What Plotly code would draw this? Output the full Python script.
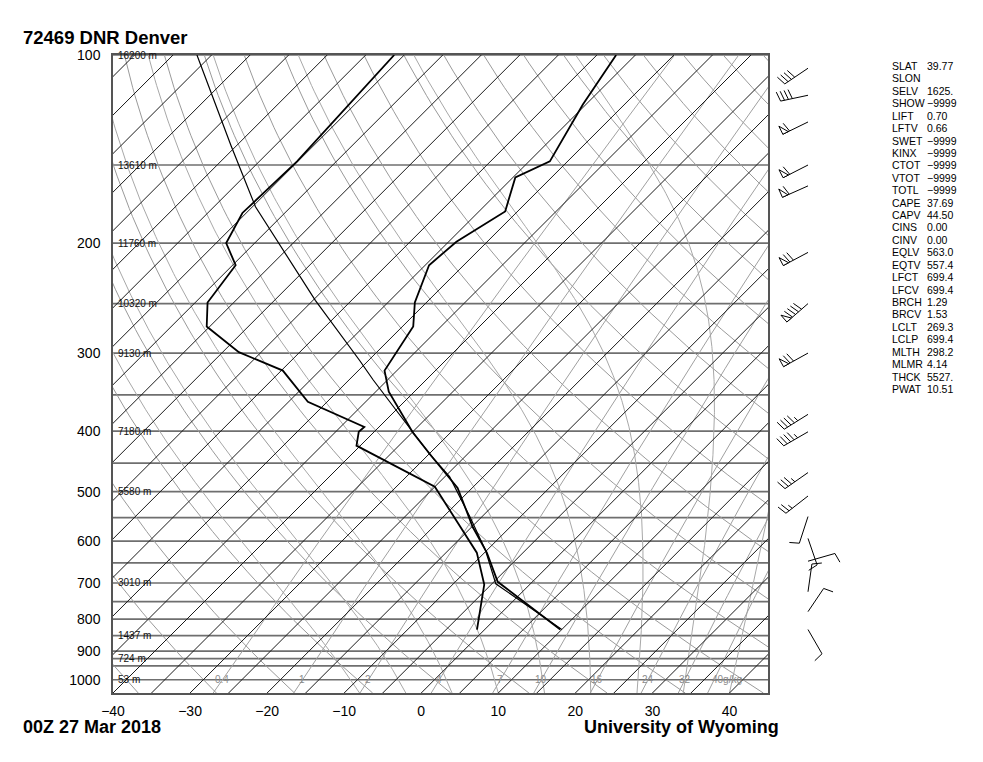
import numpy as np
import plotly.graph_objects as go

# ---------------- data ----------------
temp_p = [100, 120, 148, 157, 178, 199, 217, 249, 272, 320, 346, 402, 440, 493, 569, 626, 697, 831]
temp_t = [-57.5, -55.4, -52.3, -54.7, -51.6, -54.0, -54.5, -51.5, -48.6, -46.6, -43.3, -34.9,
          -29.2, -21.9, -14.9, -9.7, -4.5, 9.8]
dwpt_p = [100, 148, 179, 200, 217, 249, 272, 299, 320, 359, 394, 401, 422, 491, 626, 704, 831]
dwpt_t = [-86.3, -85.1, -85.5, -83.7, -79.6, -78.4, -75.4, -67.9, -59.8, -52.5, -41.9, -42.0,
          -40.5, -25.0, -11.0, -5.9, -1.0]
parcel_p = [100, 140, 175, 208, 247, 308, 331, 370, 402, 436, 473, 548, 619, 702, 831]
parcel_t = [-111.9, -95.6, -84.6, -74.6, -64.7, -51.2, -46.9, -40.0, -34.9, -29.8, -24.4,
            -16.6, -10.3, -4.5, 10.0]

wind_p = [105, 116, 128, 150, 162, 207, 250, 300, 376, 401, 466, 508, 548, 594, 646, 723, 778, 831]
wind_dir = [236, 258, 244, 243, 246, 242, 229, 241, 238, 240, 235, 232, 198, 161, 74, 8, 34, 150]
wind_spd = [40, 40, 60, 60, 60, 70, 90, 70, 45, 45, 35, 25, 10, 10, 10, 10, 10, 10]

height_p = [100, 150, 200, 250, 300, 400, 500, 700, 850, 925, 1000]
height_lbl = ["16200 m", "13610 m", "11760 m", "10320 m", "9130 m", "7180 m", "5580 m",
              "3010 m", "1437 m", "724 m", "53 m"]

isobar_p = [100, 150, 200, 250, 300, 350, 400, 450, 500, 550, 600, 650, 700, 750, 800, 850,
            900, 925, 950, 1000]
mixr_w = [0.4, 1, 2, 4, 7, 10, 16, 24, 32, 40]
mixr_lbl = ["0.4", "1", "2", "4", "7", "10", "16", "24", "32", "40g/kg"]

x_ticks = [-40, -30, -20, -10, 0, 10, 20, 30, 40]
p_ticks = [100, 200, 300, 400, 500, 600, 700, 800, 900, 1000]

stat_names = ["SLAT", "SLON", "SELV", "SHOW", "LIFT", "LFTV", "SWET", "KINX", "CTOT", "VTOT",
              "TOTL", "CAPE", "CAPV", "CINS", "CINV", "EQLV", "EQTV", "LFCT", "LFCV", "BRCH",
              "BRCV", "LCLT", "LCLP", "MLTH", "MLMR", "THCK", "PWAT"]
stat_vals = ["39.77", "", "1625.", "\u22129999", "0.70", "0.66", "\u22129999", "\u22129999",
             "\u22129999", "\u22129999", "\u22129999", "37.69", "44.50", "0.00", "0.00", "563.0",
             "557.4", "699.4", "699.4", "1.29", "1.53", "269.3", "699.4", "298.2", "4.14",
             "5527.", "10.51"]

# ---------------- geometry ----------------
W, H = 983, 762
ML, MR, MT, MB = 113, 20, 55, 69
PW = W - ML - MR
PH = H - MT - MB
MAIN_W = 655
XMIN, XMAX = -40, 45
PBOT, PTOP = 1050.0, 100.0
px_per_deg = MAIN_W / (XMAX - XMIN)
px_per_ln = PH / np.log(PBOT / PTOP)
K = px_per_ln / px_per_deg          # 45-degree isotherms


def skewx(T, p):
    return np.asarray(T, float) + K * np.log(PBOT / np.asarray(p, float))


def py(p):
    return MT + px_per_ln * np.log(p / PTOP)


FONT = "Liberation Sans, Arial, sans-serif"
fig = go.Figure()


def add_family(segs, color, width, xaxis="x", yaxis="y", fill=None, fillcolor=None):
    xs, ys = [], []
    for a, b in segs:
        xs += list(a) + [None]
        ys += list(b) + [None]
    fig.add_trace(go.Scatter(x=xs, y=ys, mode="lines", line=dict(color=color, width=width),
                             fill=fill, fillcolor=fillcolor, hoverinfo="skip",
                             showlegend=False, xaxis=xaxis, yaxis=yaxis))


plev = np.exp(np.linspace(np.log(PBOT), np.log(PTOP), 80))

# isobars
add_family([([XMIN, XMAX], [p, p]) for p in isobar_p], "#6f6f6f", 1.7)

# dry adiabats
segs = []
for th in range(-40, 200, 10):
    T = (th + 273.15) * (plev / 1000.0) ** 0.2857 - 273.15
    segs.append((skewx(T, plev), plev))
add_family(segs, "#9a9a9a", 1)


# moist adiabats
def dTdp(T, p):
    Rd, cp, Lv, eps = 287.04, 1005.7, 2.501e6, 0.622
    es = 6.112 * np.exp(17.67 * (T - 273.15) / (T - 29.65))
    rs = eps * es / (p - es)
    return ((Rd * T + Lv * rs) / p) / (cp + Lv * Lv * rs * eps / (Rd * T * T))


def moist(T0):
    ps = np.linspace(PBOT, PTOP, 400)
    Ts = [T0 + 273.15]
    for i in range(1, len(ps)):
        p0, p1 = ps[i - 1], ps[i]
        h = p1 - p0
        T = Ts[-1]
        k1 = dTdp(T, p0)
        k2 = dTdp(T + 0.5 * h * k1, p0 + 0.5 * h)
        k3 = dTdp(T + 0.5 * h * k2, p0 + 0.5 * h)
        k4 = dTdp(T + h * k3, p1)
        Ts.append(T + h * (k1 + 2 * k2 + 2 * k3 + k4) / 6)
    return ps, np.array(Ts) - 273.15


segs = []
for T0 in range(-8, 44, 6):
    ps, Ts = moist(T0)
    segs.append((skewx(Ts, ps), ps))
add_family(segs, "#a8a8a8", 1)


# mixing ratio lines
def td_from_w(w, p):
    e = (w / 1000.0) * p / (0.622 + w / 1000.0)
    a = np.log(e / 6.112)
    return 243.5 * a / (17.67 - a)


segs = []
pm = np.exp(np.linspace(np.log(PBOT), np.log(PTOP), 60))
for w in mixr_w:
    segs.append((skewx(td_from_w(w, pm), pm), pm))
add_family(segs, "#a0a0a0", 1)

# isotherms
segs = []
for T in range(-125, 50, 5):
    segs.append((skewx([T, T], [PBOT, PTOP]), [PBOT, PTOP]))
add_family(segs, "#1a1a1a", 1)

# profiles
fig.add_trace(go.Scatter(x=skewx(parcel_t, parcel_p), y=parcel_p, mode="lines",
                         line=dict(color="black", width=1.2), showlegend=False, hoverinfo="skip"))
fig.add_trace(go.Scatter(x=skewx(temp_t, temp_p), y=temp_p, mode="lines",
                         line=dict(color="black", width=1.8), showlegend=False, hoverinfo="skip"))
fig.add_trace(go.Scatter(x=skewx(dwpt_t, dwpt_p), y=dwpt_p, mode="lines",
                         line=dict(color="black", width=1.8), showlegend=False, hoverinfo="skip"))

# wind barbs (x2/y2 are pixel units)
BX = 808.0
lines, flags = [], []
for p, dd, sp in zip(wind_p, wind_dir, wind_spd):
    base = np.array([BX, py(p)])
    th = np.radians(dd)
    d = np.array([np.sin(th), -np.cos(th)])
    perp = np.array([-d[1], d[0]])
    f = 0.97 * perp + 0.24 * d
    tip = base + 28 * d
    lines.append(([base[0], tip[0]], [base[1], tip[1]]))
    n50 = sp // 50
    rem = sp - 50 * n50
    n10 = rem // 10
    n5 = (rem % 10) // 5
    pos = 0.0
    for _ in range(n50):
        A = tip - pos * d
        B = tip - (pos + 6) * d
        C = A + 9 * perp
        flags.append(([A[0], C[0], B[0], A[0]], [A[1], C[1], B[1], A[1]]))
        pos += 7.5
    for _ in range(n10):
        S = tip - pos * d
        E = S + 10 * f
        lines.append(([S[0], E[0]], [S[1], E[1]]))
        pos += 4
    for _ in range(n5):
        if n50 == 0 and n10 == 0:
            pos = 4
        S = tip - pos * d
        E = S + 5 * f
        lines.append(([S[0], E[0]], [S[1], E[1]]))
add_family(lines, "black", 1, xaxis="x2", yaxis="y2")
add_family(flags, "black", 1, xaxis="x2", yaxis="y2", fill="toself", fillcolor="white")

ann = []


def pxx(x):
    return (x - ML) / PW


def pxy(y):
    return (MT + PH - y) / PH


# height labels
for p, t in zip(height_p, height_lbl):
    ann.append(dict(x=pxx(116), y=pxy(py(p)), xref="paper", yref="paper", text=t, showarrow=False,
                    xanchor="left", yanchor="middle", font=dict(family=FONT, size=10, color="#111")))

# mixing ratio labels at 1000 hPa
for w, t in zip(mixr_w, mixr_lbl):
    xx = float(skewx(td_from_w(w, 1000.0), 1000.0))
    if t.endswith("g/kg"):
        ann.append(dict(x=xx, y=np.log10(1000), xref="x", yref="y", text=t, showarrow=False,
                        xanchor="left", xshift=-4, yanchor="middle",
                        font=dict(family=FONT, size=10, color="#8c8c8c")))
    else:
        ann.append(dict(x=xx, y=np.log10(1000), xref="x", yref="y", text=t, showarrow=False,
                        xanchor="center", yanchor="middle",
                        font=dict(family=FONT, size=10, color="#8c8c8c")))

# stats
for i, (n, v) in enumerate(zip(stat_names, stat_vals)):
    yy = 66 + i * 12.42
    ann.append(dict(x=890, y=yy, xref="x2", yref="y2", text=n, showarrow=False, xanchor="left",
                    yanchor="middle", font=dict(family=FONT, size=10.5, color="black")))
    if v:
        ann.append(dict(x=925, y=yy, xref="x2", yref="y2", text=v, showarrow=False,
                        xanchor="left", yanchor="middle",
                        font=dict(family=FONT, size=10.5, color="black")))

# titles
ann.append(dict(x=pxx(21), y=pxy(38), xref="paper", yref="paper", text="<b>72469 DNR Denver</b>",
                showarrow=False, xanchor="left", yanchor="middle",
                font=dict(family=FONT, size=18.5, color="black")))
ann.append(dict(x=pxx(21), y=pxy(727), xref="paper", yref="paper", text="<b>00Z 27 Mar 2018</b>",
                showarrow=False, xanchor="left", yanchor="middle",
                font=dict(family=FONT, size=18, color="black")))
ann.append(dict(x=pxx(781), y=pxy(727), xref="paper", yref="paper",
                text="<b>University of Wyoming</b>", showarrow=False, xanchor="right",
                yanchor="middle", font=dict(family=FONT, size=18, color="black")))

fig.update_layout(
    width=W, height=H, margin=dict(l=ML, r=MR, t=MT, b=MB, pad=0),
    paper_bgcolor="white", plot_bgcolor="white", showlegend=False,
    font=dict(family=FONT, color="black"),
    annotations=ann,
    xaxis=dict(domain=[0, MAIN_W / PW], range=[XMIN, XMAX], tickvals=x_ticks,
               showgrid=False, zeroline=False, showline=True, mirror=True,
               linecolor="#555555", linewidth=1.5, ticks="", ticklabelstandoff=4,
               tickfont=dict(family=FONT, size=14, color="black"), anchor="y"),
    yaxis=dict(type="log", range=[np.log10(PBOT), np.log10(PTOP)], tickvals=p_ticks,
               ticktext=[str(v) for v in p_ticks], showgrid=False, zeroline=False,
               showline=True, mirror=True, linecolor="#555555", linewidth=1.5, ticks="",
               ticklabelstandoff=8, tickfont=dict(family=FONT, size=14, color="black"),
               anchor="x"),
    xaxis2=dict(domain=[MAIN_W / PW, 1], range=[ML + MAIN_W, W - MR], visible=False,
                anchor="y2", fixedrange=True),
    yaxis2=dict(domain=[0, 1], range=[MT + PH, MT], visible=False, anchor="x2",
                fixedrange=True),
)

fig.write_html("out.html", config={"displayModeBar": False},
               post_script="document.body.style.margin='0';document.body.style.overflow='hidden';")
